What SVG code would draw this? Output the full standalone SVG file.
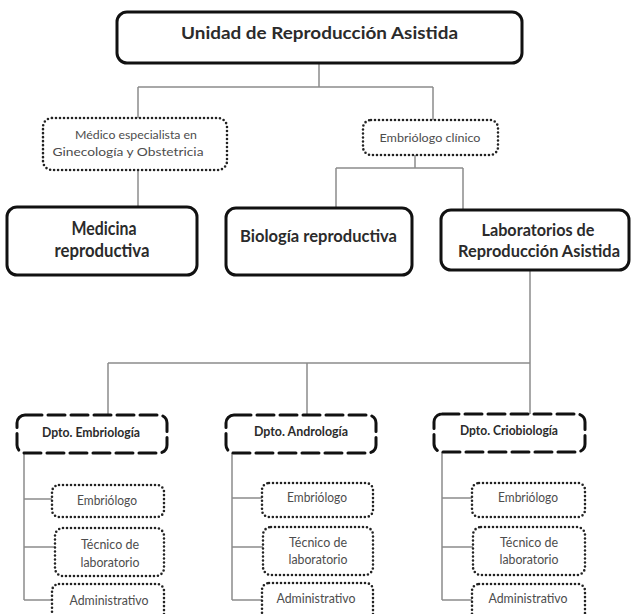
<svg xmlns="http://www.w3.org/2000/svg" width="631" height="614" viewBox="0 0 631 614">
<style>
.bg{fill:#fff}
.solid{fill:#fff;stroke:#111;stroke-width:3}
.dot{fill:#fff;stroke:#222;stroke-width:2.6;stroke-dasharray:0 4;stroke-linecap:round}
.dash{fill:#fff;stroke:#111;stroke-width:3;stroke-dasharray:17 6;stroke-linecap:round}
.conn{fill:none;stroke:#8c8c8c;stroke-width:1.5}
.tb{font-family:Lato,"Liberation Sans",sans-serif;font-weight:bold;fill:#2b2b2b;text-anchor:middle}
.tr{font-family:Lato,"Liberation Sans",sans-serif;fill:#4d4d4d;text-anchor:middle}
</style>
<rect class="bg" x="0" y="0" width="631" height="614"/>
<g id="connectors">
<path class="conn" d="M319 63V87M138 87H433M138 87V118M433 87V120"/>
<path class="conn" d="M138 170V207"/>
<path class="conn" d="M415 155V168M336 168H463M336 168V208M463 168V210"/>
<path class="conn" d="M530 270V363M108 363H530M108 363V415M307 363V415M530 363V414"/>
<path class="conn" d="M24 453V600M24 499H52M24 547H55M24 600H52"/>
<path class="conn" d="M232 453V600M232 498H262M232 547H263M232 600H262"/>
<path class="conn" d="M442 452V600M442 498H472M442 547H473M442 600H472"/>
</g>
<g id="unidad">
<rect class="solid" x="117" y="12" width="405" height="51" rx="10"/>
<text class="tb" x="319.5" y="39" font-size="17.5" textLength="277" lengthAdjust="spacingAndGlyphs">Unidad de Reproducción Asistida</text>
</g>
<g id="medico">
<rect class="dot" x="43" y="118" width="184" height="52" rx="9"/>
<text class="tr" x="136" y="139" font-size="12" textLength="122" lengthAdjust="spacingAndGlyphs">Médico especialista  en</text>
<text class="tr" x="128" y="156" font-size="12" textLength="151" lengthAdjust="spacingAndGlyphs">Ginecología y Obstetricia</text>
</g>
<g id="embriologo-clinico">
<rect class="dot" x="363" y="120" width="135" height="35" rx="8"/>
<text class="tr" x="430" y="142" font-size="12" textLength="101" lengthAdjust="spacingAndGlyphs">Embriólogo clínico</text>
</g>
<g id="medicina">
<rect class="solid" x="7" y="207" width="190" height="68" rx="10"/>
<text class="tb" x="104" y="235" font-size="18" textLength="65" lengthAdjust="spacingAndGlyphs">Medicina</text>
<text class="tb" x="102" y="257" font-size="18" textLength="95" lengthAdjust="spacingAndGlyphs">reproductiva</text>
</g>
<g id="biologia">
<rect class="solid" x="226" y="208" width="186" height="67" rx="10"/>
<text class="tb" x="318.5" y="242" font-size="17.5" textLength="157" lengthAdjust="spacingAndGlyphs">Biología reproductiva</text>
</g>
<g id="laboratorios">
<rect class="solid" x="441" y="210" width="188" height="60" rx="10"/>
<text class="tb" x="538" y="236" font-size="17.5" textLength="113" lengthAdjust="spacingAndGlyphs">Laboratorios de</text>
<text class="tb" x="539" y="257" font-size="17.5" textLength="162" lengthAdjust="spacingAndGlyphs">Reproducción Asistida</text>
</g>
<g id="dpto-embriologia">
<rect class="dash" x="17" y="415" width="150" height="38" rx="8"/>
<text class="tb" x="91" y="437" font-size="12.5" textLength="98" lengthAdjust="spacingAndGlyphs">Dpto. Embriología</text>
</g>
<g id="dpto-andrologia">
<rect class="dash" x="226" y="415" width="150" height="38" rx="8"/>
<text class="tb" x="301" y="436" font-size="12.5" textLength="94" lengthAdjust="spacingAndGlyphs">Dpto. Andrología</text>
</g>
<g id="dpto-criobiologia">
<rect class="dash" x="434" y="414" width="151" height="38" rx="8"/>
<text class="tb" x="509" y="435" font-size="12.5" textLength="98" lengthAdjust="spacingAndGlyphs">Dpto. Criobiología</text>
</g>
<g id="emb1">
<rect class="dot" x="52" y="485" width="112" height="32" rx="7"/>
<text class="tr" x="107" y="505" font-size="12.5" textLength="60" lengthAdjust="spacingAndGlyphs">Embriólogo</text>
</g>
<g id="tec1">
<rect class="dot" x="55" y="528" width="109" height="48" rx="8"/>
<text class="tr" x="110" y="549" font-size="12.5" textLength="58" lengthAdjust="spacingAndGlyphs">Técnico de</text>
<text class="tr" x="110" y="567" font-size="12.5" textLength="59" lengthAdjust="spacingAndGlyphs">laboratorio</text>
</g>
<g id="adm1">
<rect class="dot" x="52" y="584" width="112" height="40" rx="7"/>
<text class="tr" x="109" y="605" font-size="12.5" textLength="79" lengthAdjust="spacingAndGlyphs">Administrativo</text>
</g>
<g id="emb2">
<rect class="dot" x="262" y="483" width="111" height="34" rx="7"/>
<text class="tr" x="317" y="502" font-size="12.5" textLength="60" lengthAdjust="spacingAndGlyphs">Embriólogo</text>
</g>
<g id="tec2">
<rect class="dot" x="263" y="527" width="110" height="48" rx="8"/>
<text class="tr" x="318" y="547" font-size="12.5" textLength="58" lengthAdjust="spacingAndGlyphs">Técnico de</text>
<text class="tr" x="318" y="564" font-size="12.5" textLength="59" lengthAdjust="spacingAndGlyphs">laboratorio</text>
</g>
<g id="adm2">
<rect class="dot" x="262" y="583" width="111" height="40" rx="7"/>
<text class="tr" x="316" y="603" font-size="12.5" textLength="79" lengthAdjust="spacingAndGlyphs">Administrativo</text>
</g>
<g id="emb3">
<rect class="dot" x="472" y="483" width="113" height="34" rx="7"/>
<text class="tr" x="528" y="502" font-size="12.5" textLength="60" lengthAdjust="spacingAndGlyphs">Embriólogo</text>
</g>
<g id="tec3">
<rect class="dot" x="473" y="527" width="112" height="48" rx="8"/>
<text class="tr" x="529" y="547" font-size="12.5" textLength="58" lengthAdjust="spacingAndGlyphs">Técnico de</text>
<text class="tr" x="529" y="564" font-size="12.5" textLength="59" lengthAdjust="spacingAndGlyphs">laboratorio</text>
</g>
<g id="adm3">
<rect class="dot" x="472" y="584" width="113" height="40" rx="7"/>
<text class="tr" x="528" y="603" font-size="12.5" textLength="79" lengthAdjust="spacingAndGlyphs">Administrativo</text>
</g>
</svg>
